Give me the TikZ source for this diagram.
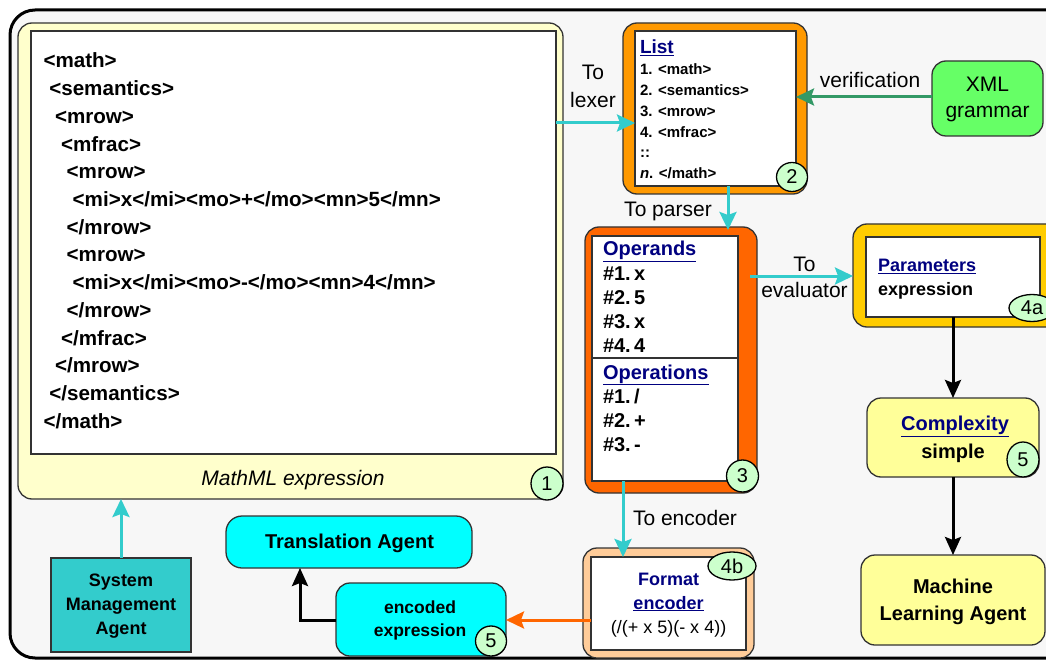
\documentclass[tikz,border=0pt]{standalone}
\usepackage{fontspec}
\setmainfont{Liberation Sans}
\usetikzlibrary{arrows.meta,fit,shapes.geometric}
\definecolor{framebg}{HTML}{F7F7F7}
\definecolor{mmlyellow}{HTML}{FFFFCC}
\definecolor{lightyel}{HTML}{FFFF99}
\definecolor{badgegreen}{HTML}{CCFFCC}
\definecolor{listorange}{HTML}{FF9900}
\definecolor{opsorange}{HTML}{FF6600}
\definecolor{paramgold}{HTML}{FFCC00}
\definecolor{peach}{HTML}{FFCC99}
\definecolor{xmlgreen}{HTML}{66FF66}
\definecolor{cyanbox}{HTML}{00FFFF}
\definecolor{tealbox}{HTML}{33CCCC}
\definecolor{tealarrow}{HTML}{33CCCC}
\definecolor{verifgreen}{HTML}{339966}
\definecolor{navyblue}{HTML}{000080}
\definecolor{borderdark}{HTML}{333333}
\newcommand{\fsz}[1]{\fontsize{#1}{#1}\selectfont}
\begin{document}
\begin{tikzpicture}[x=1pt,y=-1pt,
  every node/.style={inner sep=0pt, outer sep=0pt},
  lbl/.style={font=\fsz{21}, anchor=base},
  codeline/.style={font=\fsz{20.6}\bfseries, anchor=base west},
  listline/.style={font=\fsz{15}\bfseries, anchor=base west},
  opline/.style={font=\fsz{20}\bfseries, anchor=base west},
  head/.style={text=navyblue},
  roundbox/.style={draw=borderdark, line width=1.3pt, rounded corners=14pt},
  whitein/.style={draw=borderdark, line width=1.3pt, fill=white},
  badge/.style={ellipse, draw=black, line width=1.3pt, fill=badgegreen, font=\fsz{20}},
  tealarr/.style={draw=tealarrow, line width=3pt, -{Stealth[length=18pt,width=17pt,inset=3pt]}},
  greenarr/.style={draw=verifgreen, line width=3pt, -{Stealth[length=18pt,width=17pt,inset=3pt]}},
  orangearr/.style={draw=opsorange, line width=3pt, -{Stealth[length=18pt,width=17pt,inset=3pt]}},
  blackarr/.style={draw=black, line width=3pt, -{Stealth[length=18pt,width=16pt,inset=3pt]}},
]
\useasboundingbox (0,0) rectangle (1046,660);
\clip (0,0) rectangle (1046,660);
\fill[white] (0,0) rectangle (1046,660);
% outer frame
\draw[line width=3pt, fill=framebg, rounded corners=25pt] (10,10) rectangle (1090,658);

% MathML box
\node[roundbox, fill=mmlyellow, fit={(18,23) (563,499)}] (mml) {};
\node[whitein, fit={(31,31) (556,454)}] (mmlin) {};
\node[codeline] (c0) at (43.5,68) {<math>};
\node[codeline] (c1) at (49.3,95.7) {<semantics>};
\node[codeline] (c2) at (55,123.4) {<mrow>};
\node[codeline] (c3) at (61,151.1) {<mfrac>};
\node[codeline] (c4) at (66.7,178.8) {<mrow>};
\node[codeline] (c5) at (72.7,206.5) {<mi>x</mi><mo>+</mo><mn>5</mn>};
\node[codeline] (c6) at (66.7,234.2) {</mrow>};
\node[codeline] (c7) at (66.7,261.9) {<mrow>};
\node[codeline] (c8) at (72.7,289.6) {<mi>x</mi><mo>-</mo><mn>4</mn>};
\node[codeline] (c9) at (66.7,317.3) {</mrow>};
\node[codeline] (c10) at (61,345) {</mfrac>};
\node[codeline] (c11) at (55,372.7) {</mrow>};
\node[codeline] (c12) at (49.3,400.4) {</semantics>};
\node[codeline] (c13) at (43.5,428.1) {</math>};
\node[font=\fsz{21}\itshape, anchor=base] (mmlcap) at (293,485) {MathML expression};
\node[badge, minimum width=32pt, minimum height=33pt] (b1) at (547,483.5) {1};

% List box
\node[roundbox, fill=listorange, fit={(623,23) (807,194)}] (list) {};
\node[whitein, fit={(635,31) (796,186)}] (listin) {};
\node[anchor=base west, head, font=\fsz{19}\bfseries] (listh) at (640,54) {\underline{List}};
\node[listline] (l1) at (640,75) {1. <math>};
\node[listline] (l2) at (640,95.7) {2. <semantics>};
\node[listline] (l3) at (640,116.4) {3. <mrow>};
\node[listline] (l4) at (640,137.1) {4. <mfrac>};
\node[listline] (l5) at (640,157.8) {::};
\node[listline] (l6) at (640,178.5) {{\itshape n}. </math>};
\node[badge, minimum width=31pt, minimum height=29pt] (b2) at (792,177) {2};

% XML grammar
\node[roundbox, fill=xmlgreen, fit={(932,61) (1043,136)}] (xml) {};
\node[lbl] (xml1) at (987.5,92) {XML};
\node[lbl] (xml2) at (987.5,118) {grammar};

% Operands / Operations box
\node[roundbox, fill=opsorange, fit={(585,227) (757,493)}] (ops) {};
\node[whitein, fit={(592,236) (738,481)}] (opsin) {};
\draw[draw=borderdark, line width=1.3pt] (opsin.west |- 0,358) -- (opsin.east |- 0,358);
\node[opline, head] (oph) at (603,255.7) {\underline{Operands}};
\node[opline] (o1) at (603,280.5) {\#1.\,x};
\node[opline] (o2) at (603,304.5) {\#2.\,5};
\node[opline] (o3) at (603,328.5) {\#3.\,x};
\node[opline] (o4) at (603,352.5) {\#4.\,4};
\node[opline, head] (oth) at (603,379) {\underline{Operations}};
\node[opline] (t1) at (603,403.5) {\#1.\,/};
\node[opline] (t2) at (603,427.5) {\#2.\,+};
\node[opline] (t3) at (603,451.5) {\#3.\,-};
\node[badge, minimum width=32pt, minimum height=32pt] (b3) at (742.5,476) {3};

% Parameters box
\node[roundbox, fill=paramgold, fit={(853,224) (1070,327)}] (param) {};
\node[whitein, fit={(866,237) (1040,317)}] (paramin) {};
\node[anchor=base west, head, font=\fsz{18}\bfseries] (parh) at (878,271.7) {\underline{Parameters}};
\node[anchor=base west, font=\fsz{18}\bfseries] (par1) at (878,295) {expression};
\node[badge, minimum width=46pt, minimum height=27pt] (b4a) at (1032,308) {4a};

% Complexity box
\node[roundbox, fill=lightyel, fit={(867,398) (1039,477)}] (cx) {};
\node[anchor=base, head, font=\fsz{20}\bfseries] (cxh) at (955,430.7) {\underline{Complexity}};
\node[anchor=base, font=\fsz{20}\bfseries] (cx1) at (953,458) {simple};
\node[badge, minimum width=32pt, minimum height=35pt] (b5a) at (1023,459.5) {5};

% Machine Learning Agent
\node[roundbox, fill=lightyel, fit={(861,555) (1045,645)}] (ml) {};
\node[anchor=base, font=\fsz{20}\bfseries] (ml1) at (953,593) {Machine};
\node[anchor=base, font=\fsz{20}\bfseries] (ml2) at (953,620) {Learning Agent};

% Format encoder box
\node[roundbox, fill=peach, fit={(583,548) (754,658)}] (fmt) {};
\node[whitein, fit={(591,557) (746,650)}] (fmtin) {};
\node[anchor=base, head, font=\fsz{18}\bfseries] (fmth1) at (668.5,585) {Format};
\node[anchor=base, head, font=\fsz{18}\bfseries] (fmth2) at (668.5,609) {\underline{encoder}};
\node[anchor=base, font=\fsz{18}] (fmt1) at (668.5,633) {(/(+ x 5)(- x 4))};
\node[badge, minimum width=48pt, minimum height=28pt] (b4b) at (732,566) {4b};

% Translation Agent, encoded expression
\node[roundbox, rounded corners=16pt, fill=cyanbox, fit={(226,516) (472,568)}] (trans) {};
\node[anchor=base, font=\fsz{20}\bfseries] (trans1) at (349.5,548) {Translation Agent};
\node[roundbox, fill=cyanbox, fit={(336,583) (506,656)}] (enc) {};
\node[anchor=base, font=\fsz{17.5}\bfseries] (enc1) at (420,613) {encoded};
\node[anchor=base, font=\fsz{17.5}\bfseries] (enc2) at (420,636.7) {expression};
\node[badge, minimum width=31pt, minimum height=30pt] (b5b) at (491,641) {5};

% System Management Agent
\node[draw=borderdark, line width=1.3pt, fill=tealbox, fit={(51,558) (191,652)}] (sma) {};
\node[anchor=base, font=\fsz{18}\bfseries] (sma1) at (121,586.7) {System};
\node[anchor=base, font=\fsz{18}\bfseries] (sma2) at (121,610.7) {Management};
\node[anchor=base, font=\fsz{18}\bfseries] (sma3) at (121,634.3) {Agent};

% connectors
\draw[tealarr] (mmlin.east |- 0,123) -- (listin.west |- 0,123);
\node[lbl] (lexl1) at (593,80) {To};
\node[lbl] (lexl2) at (593,108) {lexer};

\draw[greenarr] (xml.west |- 0,97) -- (listin.east |- 0,97);
\node[lbl] (verl) at (870,87.3) {verification};

\draw[tealarr] (listin.south -| 728,0) -- ([yshift=-3pt]ops.north -| 728,0);
\node[lbl] (parl) at (668,216.5) {To parser};

\draw[tealarr] ([xshift=-7pt]ops.east |- 0,276) -- (param.west |- 0,276);
\node[lbl] (evl1) at (804.5,271.7) {To};
\node[lbl] (evl2) at (804.5,298) {evaluator};

\draw[blackarr] (cx.north |- paramin.south) -- (cx.north);
\draw[blackarr] (cx.south) -- (ml.north -| cx.south);

\draw[tealarr] (opsin.south -| 623,0) -- (fmtin.north -| 623,0);
\node[lbl] (encl) at (685,525) {To encoder};

\draw[orangearr] (fmtin.west |- 0,620) -- (enc.east |- 0,620);
\draw[blackarr] (enc.west |- 0,620) -| (trans.south -| 300,0);

\draw[tealarr] (sma.north) -- (mml.south -| sma.north);
\end{tikzpicture}
\end{document}
